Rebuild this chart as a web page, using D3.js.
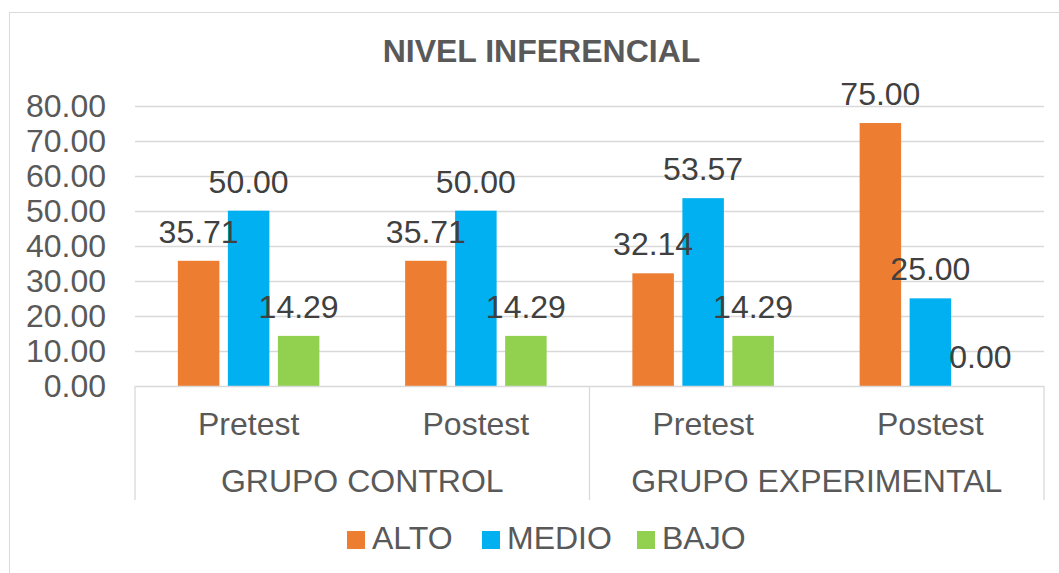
<!DOCTYPE html>
<html>
<head>
<meta charset="utf-8">
<script src="https://cdn.jsdelivr.net/npm/d3@7"></script>
<style>
  body { margin: 0; background: #fff; }
  text { font-family: "Liberation Sans", Arial, sans-serif; }
</style>
</head>
<body>
<div class="chart"></div>
<script>
// data
var groups = ["GRUPO CONTROL", "GRUPO EXPERIMENTAL"];
var phases = ["Pretest", "Postest"];
var seriesNames = ["ALTO", "MEDIO", "BAJO"];
var alto = [35.71, 35.71, 32.14, 75.00];
var medio = [50.00, 50.00, 53.57, 25.00];
var bajo = [14.29, 14.29, 14.29, 0.00];
var yTicks = [0, 10, 20, 30, 40, 50, 60, 70, 80];

var colors = ["#ED7D31", "#00B0F0", "#92D050"];
var seriesVals = [alto, medio, bajo];

var width = 1059, height = 573;
var fs = 32;

// categories: each group x phase
var cats = [];
groups.forEach(function(g) {
  phases.forEach(function(p) {
    cats.push(g + "|" + p);
  });
});

var svg = d3.select(".chart").append("svg")
  .attr("width", width)
  .attr("height", height);

// outer border
svg.append("rect")
  .attr("x", 9.5).attr("y", 12.5)
  .attr("width", width + 20).attr("height", height + 20)
  .attr("fill", "none")
  .attr("stroke", "#D9D9D9");

var x0 = d3.scaleBand()
  .domain(cats)
  .range([135, 1044])
  .paddingInner(0.3773)
  .paddingOuter(0.3773 / 2);

var x1 = d3.scaleBand()
  .domain(seriesNames)
  .range([0, x0.bandwidth()])
  .paddingInner(0.17);

var y = d3.scaleLinear()
  .domain([0, 80])
  .range([386, 105.5]);

// title
svg.append("text")
  .attr("x", 541.5).attr("y", 62)
  .attr("text-anchor", "middle")
  .attr("font-size", fs)
  .attr("font-weight", "bold")
  .attr("fill", "#595959")
  .text("NIVEL INFERENCIAL");

// gridlines
svg.append("g").selectAll("line")
  .data(yTicks.slice(1))
  .enter().append("line")
  .attr("x1", 135).attr("x2", 1044)
  .attr("y1", function(d) { return Math.round(y(d)) + 0.5; })
  .attr("y2", function(d) { return Math.round(y(d)) + 0.5; })
  .attr("stroke", "#D9D9D9")
  .attr("stroke-width", 1.3);

// y tick labels
svg.append("g").selectAll("text")
  .data(yTicks)
  .enter().append("text")
  .attr("x", 106)
  .attr("y", function(d) { return y(d); })
  .attr("dy", "0.35em")
  .attr("text-anchor", "end")
  .attr("font-size", fs)
  .attr("fill", "#595959")
  .text(function(d) { return d3.format(".2f")(d); });

// bars
var barG = svg.append("g");
cats.forEach(function(c, i) {
  seriesNames.forEach(function(s, k) {
    var v = seriesVals[k][i];
    barG.append("rect")
      .attr("x", x0(c) + x1(s))
      .attr("y", y(v))
      .attr("width", x1.bandwidth())
      .attr("height", y(0) - y(v))
      .attr("fill", colors[k]);
  });
});

// category axis
var axG = svg.append("g").attr("stroke", "#D9D9D9").attr("stroke-width", 1.3);
axG.append("line")
  .attr("x1", 135).attr("x2", 1044)
  .attr("y1", 386.5).attr("y2", 386.5);
var sepX = [135, (135 + 1044) / 2, 1044];
axG.selectAll(".sep")
  .data(sepX)
  .enter().append("line")
  .attr("x1", function(d) { return d; })
  .attr("x2", function(d) { return d; })
  .attr("y1", 386).attr("y2", 500);

// phase labels
svg.append("g").selectAll("text")
  .data(cats)
  .enter().append("text")
  .attr("x", function(d) { return x0(d) + x0.bandwidth() / 2; })
  .attr("y", 435)
  .attr("text-anchor", "middle")
  .attr("font-size", fs)
  .attr("fill", "#595959")
  .text(function(d) { return d.split("|")[1]; });

// group labels
svg.append("g").selectAll("text")
  .data(groups)
  .enter().append("text")
  .attr("x", function(d, i) { return (sepX[i] + sepX[i + 1]) / 2; })
  .attr("y", 492)
  .attr("text-anchor", "middle")
  .attr("font-size", fs)
  .attr("fill", "#595959")
  .text(function(d) { return d; });

// data labels
var lblG = svg.append("g");
cats.forEach(function(c, i) {
  seriesNames.forEach(function(s, k) {
    var v = seriesVals[k][i];
    lblG.append("text")
      .attr("x", x0(c) + x1(s) + x1.bandwidth() / 2)
      .attr("y", y(v) - 18)
      .attr("text-anchor", "middle")
      .attr("font-size", fs)
      .attr("fill", "#404040")
      .text(d3.format(".2f")(v));
  });
});

// legend
var legX = [347, 482, 637];
var leg = svg.append("g");
seriesNames.forEach(function(s, k) {
  leg.append("rect")
    .attr("x", legX[k]).attr("y", 531)
    .attr("width", 18).attr("height", 18)
    .attr("fill", colors[k]);
  leg.append("text")
    .attr("x", legX[k] + 25).attr("y", 549)
    .attr("font-size", fs)
    .attr("fill", "#595959")
    .text(s);
});
</script>
</body>
</html>
